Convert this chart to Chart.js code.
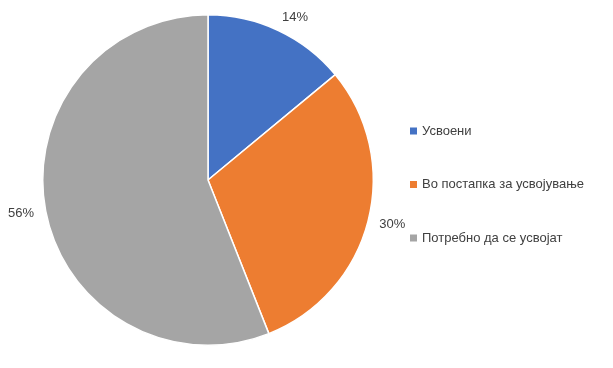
<!DOCTYPE html>
<html><head><meta charset="utf-8">
<script src="https://cdn.jsdelivr.net/npm/chart.js@4"></script>
<style>html,body{margin:0;padding:0;background:#fff}#wrap{width:613px;height:368px}</style>
</head><body><div id="wrap"><canvas id="c" width="613" height="368"></canvas></div>
<script>
const categories = ["Усвоени", "Во постапка за усвојување", "Потребно да се усвојат"];
const values = [14, 30, 56];
const colors = ["#4472C4", "#ED7D31", "#A5A5A5"];
const FONT = "13px 'Liberation Sans', Arial, sans-serif";

const labelPlugin = {
  id: 'outLabels',
  afterDatasetsDraw(chart) {
    const ctx = chart.ctx;
    const meta = chart.getDatasetMeta(0);
    const total = values.reduce((a, b) => a + b, 0);
    ctx.save();
    ctx.font = FONT;
    ctx.fillStyle = '#404040';
    ctx.textAlign = 'center';
    ctx.textBaseline = 'middle';
    meta.data.forEach((arc, i) => {
      const mid = (arc.startAngle + arc.endAngle) / 2;
      const r = arc.outerRadius + 25;
      let x = arc.x + Math.cos(mid) * r;
      let y = arc.y + Math.sin(mid) * r;
      if (i === 0) { x += 6; y += 10; }
      if (i === 1) { y -= 3; }
      if (i === 2) { y -= 2; }
      ctx.fillText(Math.round(values[i] / total * 100) + '%', x, y);
    });
    ctx.restore();
  }
};

const legendPlugin = {
  id: 'sideLegend',
  afterDraw(chart) {
    const ctx = chart.ctx;
    const x0 = 410, ys = [131, 184.5, 238];
    ctx.save();
    ctx.font = FONT;
    ctx.textBaseline = 'middle';
    ctx.textAlign = 'left';
    categories.forEach((c, i) => {
      ctx.fillStyle = colors[i];
      ctx.fillRect(x0, ys[i] - 3.5, 7, 7);
      ctx.fillStyle = '#404040';
      ctx.fillText(c, x0 + 12, ys[i]);
    });
    ctx.restore();
  }
};

new Chart(document.getElementById('c'), {
  type: 'pie',
  data: {
    labels: categories,
    datasets: [{
      data: values,
      backgroundColor: colors,
      borderColor: '#ffffff',
      borderWidth: 1.5
    }]
  },
  options: {
    responsive: false,
    animation: false,
    layout: { padding: { left: 42, top: 14, bottom: 22, right: 239 } },
    plugins: { legend: { display: false }, tooltip: { enabled: false } }
  },
  plugins: [labelPlugin, legendPlugin]
});
</script></body></html>
